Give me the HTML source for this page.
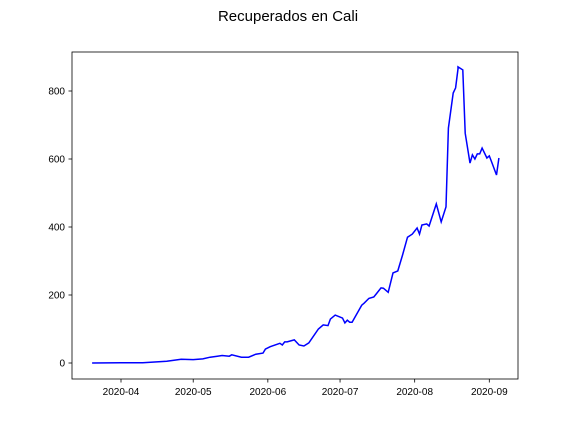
<!DOCTYPE html>
<html><head><meta charset="utf-8"><style>
body{margin:0;background:#fff;font-family:"Liberation Sans",sans-serif}
svg text{font-family:"Liberation Sans",sans-serif}
</style></head><body>
<svg id="c" width="576" height="432" xmlns="http://www.w3.org/2000/svg">
<text x="288" y="21" text-anchor="middle" font-size="15">Recuperados en Cali</text>
<rect x="72" y="52" width="446" height="327" fill="none" stroke="#000" stroke-width="0.8"/>
<g id="ax"></g>
<polyline id="ln" fill="none" stroke="#0000ff" stroke-width="1.5"/>
</svg>
<script>
const dates=["2020-03-20","2020-04-01","2020-04-10","2020-04-15","2020-04-20","2020-04-23","2020-04-26","2020-05-01","2020-05-05","2020-05-08","2020-05-11","2020-05-13","2020-05-16","2020-05-17","2020-05-21","2020-05-24","2020-05-27","2020-05-30","2020-05-31","2020-06-02","2020-06-06","2020-06-07","2020-06-08","2020-06-09","2020-06-12","2020-06-14","2020-06-16","2020-06-18","2020-06-22","2020-06-24","2020-06-26","2020-06-27","2020-06-29","2020-07-02","2020-07-03","2020-07-04","2020-07-05","2020-07-06","2020-07-10","2020-07-11","2020-07-13","2020-07-15","2020-07-16","2020-07-18","2020-07-19","2020-07-21","2020-07-23","2020-07-25","2020-07-27","2020-07-29","2020-07-31","2020-08-02","2020-08-03","2020-08-04","2020-08-06","2020-08-07","2020-08-10","2020-08-12","2020-08-14","2020-08-15","2020-08-17","2020-08-18","2020-08-19","2020-08-19","2020-08-21","2020-08-22","2020-08-24","2020-08-25","2020-08-26","2020-08-27","2020-08-28","2020-08-29","2020-08-31","2020-09-01","2020-09-02","2020-09-04","2020-09-05"];
const values=[0,1,1,3,5,8,11,10,12,17,20,22,20,24,17,17,26,29,41,48,58,53,62,62,68,53,50,59,100,112,110,129,141,132,118,126,120,120,170,176,190,194,203,221,220,208,265,271,318,370,379,397,379,406,409,403,468,415,459,691,794,809,865,871,862,676,588,612,600,615,615,632,603,609,591,553,603];
const xTicks=["2020-04","2020-05","2020-06","2020-07","2020-08","2020-09"];
const yTicks=[0,200,400,600,800];
const day=s=>Date.parse(s.length===7?s+"-01":s)/864e5;
const d0=day("2020-04-01"),d1=day("2020-09-01");
const X=s=>121+(day(s)-d0)*(489.3-121)/(d1-d0);
const Y=v=>363-v*0.34;
const ns="http://www.w3.org/2000/svg",ax=document.getElementById("ax");
function mk(t,a){const e=document.createElementNS(ns,t);for(const k in a)e.setAttribute(k,a[k]);ax.appendChild(e);return e;}
xTicks.forEach(t=>{const x=X(t);
const l=mk("line",{x1:x,x2:x,y1:379,y2:382.5,stroke:"#000","stroke-width":0.8});


const tx=mk("text",{x:x,y:395,"font-size":10,"text-anchor":"middle"});tx.textContent=t;

});
yTicks.forEach(v=>{const y=Y(v);
const l=mk("line",{x1:68.5,x2:72,y1:y,y2:y,stroke:"#000","stroke-width":0.8});


const tx=mk("text",{x:65,y:y+3.5,"font-size":10,"text-anchor":"end"});tx.textContent=v;

});
document.getElementById("ln").setAttribute("points",dates.map((d,i)=>X(d).toFixed(1)+","+Y(values[i]).toFixed(1)).join(" "));
</script>
</body></html>
